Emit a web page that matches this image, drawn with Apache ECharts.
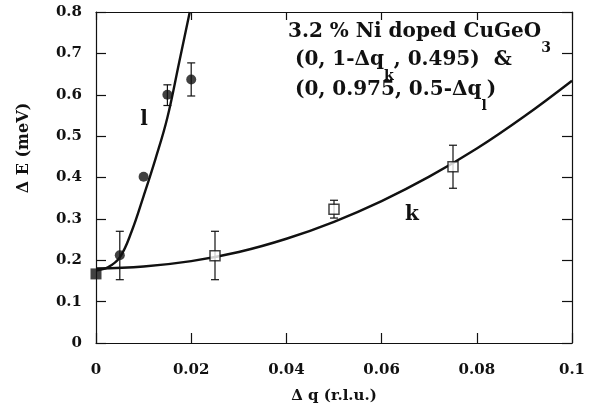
<!DOCTYPE html>
<html>
<head>
<meta charset="utf-8">
<script src="https://cdn.jsdelivr.net/npm/echarts@6/dist/echarts.min.js"></script>
<style>
  html, body { margin: 0; padding: 0; background: #fff; }
  #chart { width: 602px; height: 414px; }
</style>
</head>
<body>
<div id="chart"></div>
<script>
// Gap dispersion in 3.2 % Ni doped CuGeO3 along the k and l directions

// axis ranges / ticks
const xTicks = [0, 0.02, 0.04, 0.06, 0.08, 0.1];
const yTicks = [0, 0.1, 0.2, 0.3, 0.4, 0.5, 0.6, 0.7, 0.8];

// l branch (filled circles) with error bars
const lQ  = [0.005, 0.010, 0.015, 0.020];
const lE  = [0.212, 0.402, 0.600, 0.637];
const lLo = [0.153, null, 0.574, 0.597];
const lHi = [0.270, null, 0.624, 0.677];

// k branch (open squares) with error bars
const kQ  = [0.025, 0.050, 0.075];
const kE  = [0.211, 0.323, 0.426];
const kLo = [0.153, 0.302, 0.374];
const kHi = [0.270, 0.345, 0.478];

// common point at the zone centre
const zeroQ = [0];
const zeroE = [0.167];

// fitted dispersion curves
const lFitQ = [0, 0.0025, 0.005, 0.0075, 0.010, 0.0125, 0.015, 0.0175, 0.0197];
const lFitE = [0.175, 0.183, 0.207, 0.270, 0.355, 0.445, 0.545, 0.680, 0.800];
const kFitQ = [0, 0.01, 0.02, 0.03, 0.04, 0.05, 0.06, 0.07, 0.08, 0.09, 0.1];
const kFitE = [0.180, 0.185, 0.198, 0.220, 0.252, 0.293, 0.343, 0.402, 0.470, 0.548, 0.634];

const INK = '#111';
const SERIF = 'DejaVu Serif';

const pairs = (xs, ys) => xs.map((x, i) => [x, ys[i]]);

function errorBars(q, lo, hi) {
  return {
    type: 'custom',
    xAxisIndex: 0, yAxisIndex: 0,
    z: 3,
    encode: { x: 0, y: [1, 2] },
    data: q.map((x, i) => [x, lo[i], hi[i]]).filter(d => d[1] != null),
    renderItem(params, api) {
      const top = api.coord([api.value(0), api.value(2)]);
      const bot = api.coord([api.value(0), api.value(1)]);
      const w = 4;
      const st = { stroke: INK, lineWidth: 1.2 };
      return {
        type: 'group',
        children: [
          { type: 'line', shape: { x1: top[0], y1: top[1], x2: bot[0], y2: bot[1] }, style: st },
          { type: 'line', shape: { x1: top[0] - w, y1: top[1], x2: top[0] + w, y2: top[1] }, style: st },
          { type: 'line', shape: { x1: bot[0] - w, y1: bot[1], x2: bot[0] + w, y2: bot[1] }, style: st }
        ]
      };
    }
  };
}

const tickFont = { fontFamily: SERIF, fontWeight: 'bold', fontSize: 15, color: INK };
const frameLine = { show: true, onZero: false, lineStyle: { color: INK, width: 1.2 } };
const tickIn = len => ({ show: true, inside: true, length: len, lineStyle: { color: INK, width: 1.2 } });

const xBase = {
  type: 'value', min: 0, max: 0.1, interval: 0.02,
  splitLine: { show: false },
  axisLine: frameLine
};
const yBase = {
  type: 'value', min: 0, max: 0.8, interval: 0.1,
  splitLine: { show: false },
  axisLine: frameLine
};

const main = { fontFamily: SERIF, fontWeight: 'bold', fontSize: 20, fill: INK };
const sub  = { fontFamily: SERIF, fontWeight: 'bold', fontSize: 14, lineHeight: 14, verticalAlign: 'bottom', fill: INK };

function annotation(x, y, text) {
  return {
    type: 'text', x: x, y: y, z: 10,
    style: {
      text: text,
      rich: { m: main, s: sub },
      lineHeight: 46,
      align: 'left',
      verticalAlign: 'middle',
      fontFamily: SERIF, fontWeight: 'bold', fontSize: 20, fill: INK
    }
  };
}

const chart = echarts.init(document.getElementById('chart'), null, { renderer: 'canvas' });
chart.setOption({
  animation: false,
  backgroundColor: '#fff',
  grid: { left: 96, right: 30, top: 12, bottom: 71 },
  xAxis: [
    Object.assign({}, xBase, {
      position: 'bottom',
      axisTick: tickIn(10),
      axisLabel: Object.assign({ margin: 20, showMinLabel: true, showMaxLabel: true,
        formatter: v => xTicks.includes(+v.toFixed(2)) ? String(+v.toFixed(2)) : '' }, tickFont),
      name: 'Δ q (r.l.u.)',
      nameLocation: 'middle',
      nameGap: 46,
      nameTextStyle: { fontFamily: SERIF, fontWeight: 'bold', fontSize: 15, color: INK }
    }),
    Object.assign({}, xBase, {
      position: 'top',
      axisTick: tickIn(8),
      axisLabel: { show: false }
    })
  ],
  yAxis: [
    Object.assign({}, yBase, {
      position: 'left',
      axisTick: tickIn(10),
      axisLabel: Object.assign({ margin: 14, showMinLabel: true, showMaxLabel: true,
        formatter: v => yTicks.includes(+v.toFixed(1)) ? String(+v.toFixed(1)) : '' }, tickFont)
    }),
    Object.assign({}, yBase, {
      position: 'right',
      axisTick: tickIn(10),
      axisLabel: { show: false }
    })
  ],
  series: [
    {
      name: 'l fit', type: 'line', data: pairs(lFitQ, lFitE),
      smooth: 0.4, showSymbol: false, symbol: 'none',
      lineStyle: { color: INK, width: 2.4 }, z: 2
    },
    {
      name: 'k fit', type: 'line', data: pairs(kFitQ, kFitE),
      smooth: 0.4, showSymbol: false, symbol: 'none',
      lineStyle: { color: INK, width: 2.4 }, z: 2
    },
    errorBars(lQ, lLo, lHi),
    errorBars(kQ, kLo, kHi),
    {
      name: 'l', type: 'scatter', data: pairs(lQ, lE),
      symbol: 'circle', symbolSize: 10,
      itemStyle: { color: INK }, z: 5
    },
    {
      name: 'k', type: 'scatter', data: pairs(kQ, kE),
      symbol: 'rect', symbolSize: 10,
      itemStyle: { color: '#fff', borderColor: INK, borderWidth: 1.5 }, z: 5
    },
    {
      name: 'centre', type: 'scatter', data: pairs(zeroQ, zeroE),
      symbol: 'rect', symbolSize: 11,
      itemStyle: { color: INK }, z: 6
    }
  ],
  graphic: [
    // vertical axis title
    { type: 'text', x: 24, y: 148, rotation: Math.PI / 2, z: 10,
      style: { text: 'Δ E (meV)', fontFamily: SERIF, fontWeight: 'bold', fontSize: 16, fill: INK, align: 'center', verticalAlign: 'middle' } },
    annotation(288, 32, '{m|3.2 % Ni doped CuGeO}{s|3}'),
    annotation(295, 60, '{m|(0, 1-Δq}{s|k}{m|, 0.495)  &}'),
    annotation(295, 90, '{m|(0, 0.975, 0.5-Δq}{s|l}{m|)}'),
    { type: 'text', x: 144, y: 120, z: 10,
      style: { text: 'l', fontFamily: SERIF, fontWeight: 'bold', fontSize: 20, fill: INK, align: 'center', verticalAlign: 'middle' } },
    { type: 'text', x: 412, y: 215, z: 10,
      style: { text: 'k', fontFamily: SERIF, fontWeight: 'bold', fontSize: 20, fill: INK, align: 'center', verticalAlign: 'middle' } }
  ]
});
</script>
</body>
</html>
